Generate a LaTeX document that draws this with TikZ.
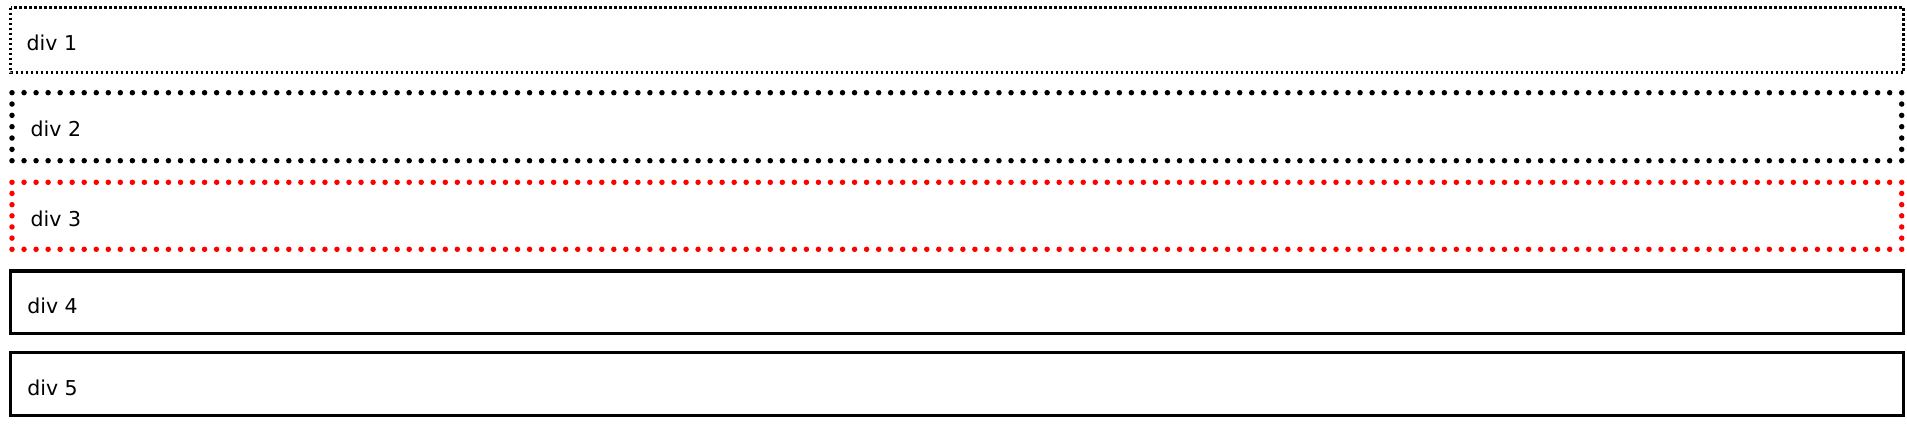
\documentclass[tikz,border=0pt]{standalone}
\usepackage{fontspec}
\setmainfont{DejaVu Sans}
\tikzset{
  lbl/.style={anchor=base west, inner sep=0pt, outer sep=0pt, font=\fontsize{20.5}{24}\selectfont},
  sqdot/.style={line width=2.5pt, dash pattern=on 2.5pt off 2.5pt, line cap=butt},
  solidbox/.style={line width=3.3pt},
}
\newcommand{\dotbox}[6]{%
  % #1 colour, #2 left x, #3 top y, #4 right x, #5 bottom y, #6 horizontal count
  \pgfmathsetmacro{\dbw}{(#4-#2)/#6}%
  \pgfmathsetmacro{\dbh}{(#5-#3)/6}%
  \foreach \i in {0,...,#6}{%
    \fill[#1] ({#2+\i*\dbw},#3) circle[radius=2.75pt];
    \fill[#1] ({#2+\i*\dbw},#5) circle[radius=2.75pt];
  }%
  \foreach \j in {1,...,5}{%
    \fill[#1] (#2,{#3+\j*\dbh}) circle[radius=2.75pt];
    \fill[#1] (#4,{#3+\j*\dbh}) circle[radius=2.75pt];
  }%
}
\begin{document}
\begin{tikzpicture}[x=1pt,y=-1pt]
\useasboundingbox (0,0) rectangle (1907,426);
% div 1
\draw[sqdot] (10.5,7.5) rectangle (1903.5,72.5);
\node[lbl] (t1) at (26.7,50.5) {div 1};
% div 2
\dotbox{black}{12}{92.7}{1901.7}{160.7}{157}
\node[lbl] (t2) at (30.7,136.7) {div 2};
% div 3
\dotbox{red}{12}{182.3}{1901.7}{249.3}{157}
\node[lbl] (t3) at (30.7,226) {div 3};
% div 4
\draw[solidbox] (10.7,271) rectangle (1903.3,333.3);
\node[lbl] (t4) at (27.3,313.5) {div 4};
% div 5
\draw[solidbox] (10.7,352.3) rectangle (1903.3,415.7);
\node[lbl] (t5) at (27.3,395.5) {div 5};
\end{tikzpicture}
\end{document}
